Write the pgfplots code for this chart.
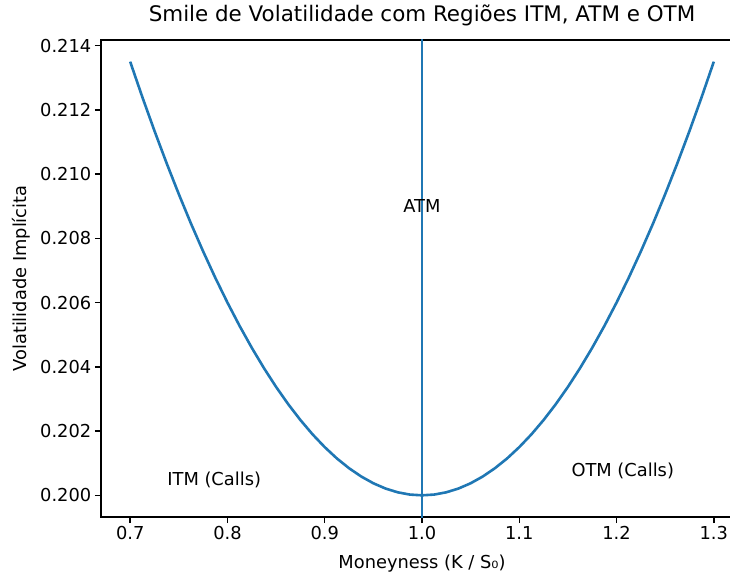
\documentclass[border=0pt]{standalone}
\usepackage{pgfplots}
\pgfplotsset{compat=1.18}
\usepackage{fontspec}
\setmainfont{DejaVu Sans}
\definecolor{mplblue}{HTML}{1F77B4}
\begin{document}
\begin{tikzpicture}
\begin{axis}[
  scale only axis,
  width=642bp, height=477bp,
  xmin=0.67, xmax=1.33,
  ymin=0.199325, ymax=0.214175,
  xtick={0.7,0.8,0.9,1.0,1.1,1.2,1.3},
  ytick={0.200,0.202,0.204,0.206,0.208,0.210,0.212,0.214},
  xtick pos=bottom, ytick pos=left,
  xticklabel style={/pgf/number format/fixed,/pgf/number format/fixed zerofill,/pgf/number format/precision=1},
  yticklabel style={/pgf/number format/fixed,/pgf/number format/fixed zerofill,/pgf/number format/precision=3},
  scaled y ticks=false, scaled x ticks=false,
  /pgf/number format/assume math mode=true,
  tick align=outside,
  major tick length=6.2bp,
  tick style={black, line width=1.4bp},
  axis line style={black, line width=1.4bp},
  every tick label/.append style={font=\fontsize{17.9}{21}\selectfont},
  title={Smile de Volatilidade com Regiões ITM, ATM e OTM},
  title style={font=\fontsize{21.5}{25}\selectfont, at={(axis description cs:0.5,1.0262)}, anchor=base, inner sep=0pt},
  xlabel={Moneyness (K / S₀)},
  ylabel={Volatilidade Implícita},
  label style={font=\fontsize{17.9}{21}\selectfont},
  xlabel style={at={(axis description cs:0.5,-0.109)}, anchor=base, inner sep=0pt},
  ylabel style={at={(axis description cs:-0.1153,0.5)}, anchor=base, inner sep=0pt},
  clip=true,
]
\addplot[mplblue, line width=2.6bp] coordinates {
(0.7000,0.213500) (0.7125,0.212398) (0.7250,0.211344) (0.7375,0.210337)
(0.7500,0.209375) (0.7625,0.208460) (0.7750,0.207594) (0.7875,0.206773)
(0.8000,0.206000) (0.8125,0.205273) (0.8250,0.204594) (0.8375,0.203961)
(0.8500,0.203375) (0.8625,0.202836) (0.8750,0.202344) (0.8875,0.201898)
(0.9000,0.201500) (0.9125,0.201148) (0.9250,0.200844) (0.9375,0.200586)
(0.9500,0.200375) (0.9625,0.200211) (0.9750,0.200094) (0.9875,0.200023)
(1.0000,0.200000)
(1.0125,0.200023) (1.0250,0.200094) (1.0375,0.200211) (1.0500,0.200375)
(1.0625,0.200586) (1.0750,0.200844) (1.0875,0.201148) (1.1000,0.201500)
(1.1125,0.201898) (1.1250,0.202344) (1.1375,0.202836) (1.1500,0.203375)
(1.1625,0.203961) (1.1750,0.204594) (1.1875,0.205273) (1.2000,0.206000)
(1.2125,0.206773) (1.2250,0.207594) (1.2375,0.208460) (1.2500,0.209375)
(1.2625,0.210337) (1.2750,0.211344) (1.2875,0.212398) (1.3000,0.213500)
};
\addplot[mplblue, line width=2.6bp] coordinates {(1.0,0.1990) (1.0,0.2145)};
\node[anchor=base west, inner sep=0, font=\fontsize{17.9}{21}\selectfont] at (axis cs:0.738,0.20031) {ITM (Calls)};
\node[anchor=base west, inner sep=0, font=\fontsize{17.9}{21}\selectfont] at (axis cs:1.1535,0.20059) {OTM (Calls)};
\node[anchor=base west, inner sep=0, font=\fontsize{17.9}{21}\selectfont] at (axis cs:0.9807,0.2088) {ATM};
\end{axis}
\pgfresetboundingbox
\useasboundingbox (current axis.south west) ++(-101bp,-56bp) rectangle ++(730bp,573bp);
\end{tikzpicture}
\end{document}
